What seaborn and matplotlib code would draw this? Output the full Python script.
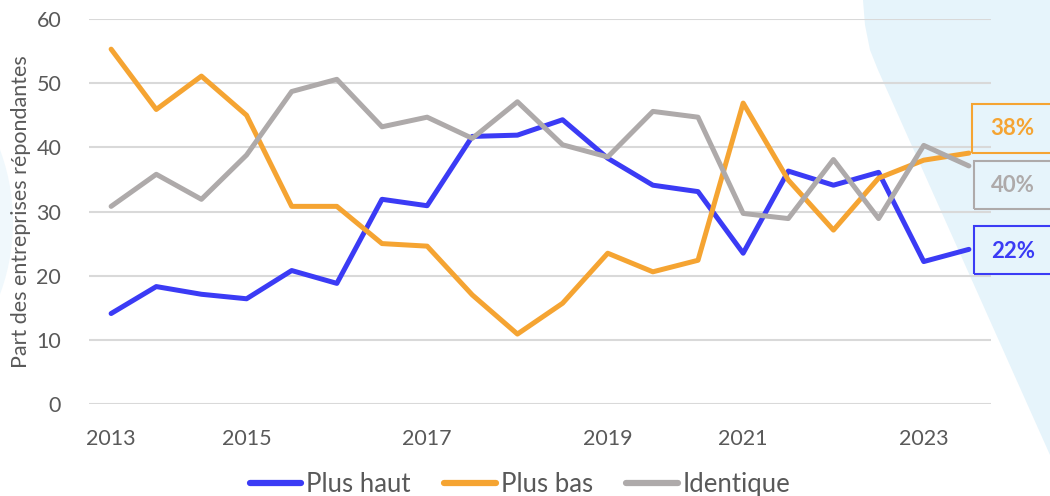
"""
Part des entreprises répondantes : plus haut / plus bas / identique (2013-2023)
"""
import numpy as np
import pandas as pd
import matplotlib
matplotlib.use('Agg')
import matplotlib.pyplot as plt
import seaborn as sns
from matplotlib.patches import Polygon, Circle, Rectangle
from matplotlib.transforms import IdentityTransform

# ── données (semestrielles) ──────────────────────────────────
periodes = list(range(20))
tick_pos = [0, 3, 7, 11, 14, 18]
tick_labels = ['2013', '2015', '2017', '2019', '2021', '2023']

plus_haut = [14.1, 18.3, 17.1, 16.4, 20.8, 18.8, 31.9, 30.9, 41.7, 41.9,
             44.3, 38.3, 34.1, 33.1, 23.5, 36.3, 34.1, 36.1, 22.2, 24.1]
plus_bas = [55.3, 45.9, 51.1, 45.0, 30.8, 30.8, 25.0, 24.6, 17.0, 10.9,
            15.7, 23.5, 20.6, 22.4, 46.9, 34.9, 27.1, 35.2, 38.0, 39.1]
identique = [30.8, 35.8, 31.9, 38.8, 48.7, 50.6, 43.2, 44.7, 41.4, 47.1,
             40.4, 38.5, 45.6, 44.7, 29.7, 28.9, 38.1, 28.9, 40.3, 37.1]

series = ['Plus haut', 'Plus bas', 'Identique']
etiquettes = ['22%', '38%', '40%']

c_bleu = '#3B3BF5'
c_orange = '#F5A432'
c_gris = '#AEAAAA'
c_texte = '#595959'
c_fond = '#E6F4FB'
palette = {'Plus haut': c_bleu, 'Plus bas': c_orange, 'Identique': c_gris}

df = pd.DataFrame({'periode': periodes * 3,
                   'valeur': plus_haut + plus_bas + identique,
                   'serie': np.repeat(series, len(periodes))})

sns.set_style('white')
plt.rcParams['font.family'] = ['Lato', 'DejaVu Sans']

W, H = 1050, 496
fig = plt.figure(figsize=(W / 100, H / 100), dpi=100)
ax = fig.add_axes([89 / W, 1 - 404 / H, (991 - 89) / W, (404 - 19) / H])
ax.patch.set_visible(False)

# ── formes décoratives en fond ───────────────────────────────
droite = [(863, 0), (865, 25), (870, 50), (878, 70), (1050, 455), (1050, 0)]
fig.patches.append(Polygon([(x, H - y) for x, y in droite], closed=True,
                           transform=IdentityTransform(), fc=c_fond, ec='none', zorder=-2))
fig.patches.append(Circle((-195, H - 222), 208, transform=IdentityTransform(),
                          fc=c_fond, ec='none', zorder=-2, alpha=0.6))

sns.lineplot(data=df, x='periode', y='valeur', hue='serie', palette=palette,
             hue_order=series, linewidth=3.6, ax=ax, legend=True)

ax.set_xlim(-0.49, 19.49)
ax.set_ylim(0, 60)
ax.set_yticks(range(0, 61, 10))
ax.set_xticks(tick_pos)
ax.set_xticklabels(tick_labels)
ax.tick_params(axis='both', length=0, labelsize=15.5, labelcolor=c_texte)
ax.tick_params(axis='x', pad=18)
ax.tick_params(axis='y', pad=20)
ax.grid(True, axis='y', color='#D9D9D9', linewidth=1.5)
ax.set_axisbelow(True)
for s in ax.spines.values():
    s.set_visible(False)
ax.set_xlabel('')
ax.set_ylabel('Part des entreprises répondantes', fontsize=15.5, color=c_texte, labelpad=4)

# ── encadrés des dernières valeurs ───────────────────────────
dernier = periodes[-1]
boites = [  # (couleur, valeur finale, décalage x, bas, haut, centre texte)
    (c_orange, plus_bas[-1], 0.07, 0.0, 7.6, 3.9),
    (c_gris, identique[-1], 0.11, -6.7, 0.75, -3.0),
    (c_bleu, plus_haut[-1], 0.11, -3.9, 3.6, -0.3),
]
for (col, val, dx, bas, haut, ty), txt in zip(boites, [etiquettes[1], etiquettes[2], etiquettes[0]]):
    ax.add_patch(Rectangle((dernier + dx, val + bas), 1.9, haut - bas, fill=False,
                           ec=col, lw=1.5, clip_on=False))
    ax.text(dernier + 0.97, val + ty, txt, color=col, fontsize=16, fontweight='bold',
            ha='center', va='center', clip_on=False)

leg = ax.legend(loc='center', bbox_to_anchor=(0.478, -0.21), ncol=3, frameon=False,
                fontsize=18.5, handlelength=2.0, handletextpad=0.2, columnspacing=1.3)
for t in leg.get_texts():
    t.set_color(c_texte)
for l in leg.get_lines():
    l.set_linewidth(4.5)

fig.savefig('out.png', dpi=100)
